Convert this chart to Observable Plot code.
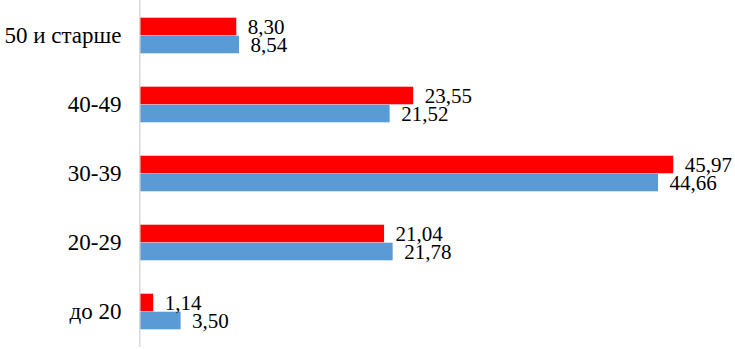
<!DOCTYPE html>
<html>
<head>
<meta charset="utf-8">
<script src="https://cdn.jsdelivr.net/npm/d3@7"></script>
<script src="https://cdn.jsdelivr.net/npm/@observablehq/plot@0.6"></script>
<style>
  html, body { margin: 0; padding: 0; background: #fff; }
  #chart svg, #chart svg text { font-family: "Liberation Serif", "DejaVu Serif", serif !important; }
</style>
</head>
<body>
<div id="chart"></div>
<script>
const categories = ["50 и старше", "40-49", "30-39", "20-29", "до 20"];
const redValues  = [8.30, 23.55, 45.97, 21.04, 1.14];
const blueValues = [8.54, 21.52, 44.66, 21.78, 3.50];

const redData  = categories.map((c, i) => ({category: c, value: redValues[i]}));
const blueData = categories.map((c, i) => ({category: c, value: blueValues[i]}));

const W = 735, H = 349, mTop = 0, mBottom = 2;
const bw = (H - mTop - mBottom) / categories.length;
const barH = 18;
const fmt = v => d3.format(".2f")(v).replace(".", ",");

const chart = Plot.plot({
  width: W,
  height: H,
  marginLeft: 140,
  marginRight: 15,
  marginTop: mTop,
  marginBottom: mBottom,
  style: {fontFamily: "Liberation Serif, serif", fontSize: "21px", color: "#000", background: "#fff"},
  x: {domain: [0, 50], axis: null},
  y: {domain: categories, padding: 0, label: null, axis: null},
  marks: [
    Plot.axisY({tickSize: 0, tickPadding: 19, fontSize: 23, label: null, fill: "#000"}),
    Plot.barX(redData, {x: "value", y: "category", fill: "#ff0000", insetTop: bw / 2 - barH, insetBottom: bw / 2}),
    Plot.barX(blueData, {x: "value", y: "category", fill: "#5b9bd5", insetTop: bw / 2, insetBottom: bw / 2 - barH}),
    Plot.ruleX([0], {stroke: "#d9d9d9", strokeWidth: 1.5, dx: -0.75}),
    Plot.text(redData, {x: "value", y: "category", text: d => fmt(d.value), textAnchor: "start", dx: 11, dy: -barH / 2, fontSize: 21, fill: "#000"}),
    Plot.text(blueData, {x: "value", y: "category", text: d => fmt(d.value), textAnchor: "start", dx: 11, dy: barH / 2, fontSize: 21, fill: "#000"})
  ]
});
document.getElementById("chart").appendChild(chart);
</script>
</body>
</html>
